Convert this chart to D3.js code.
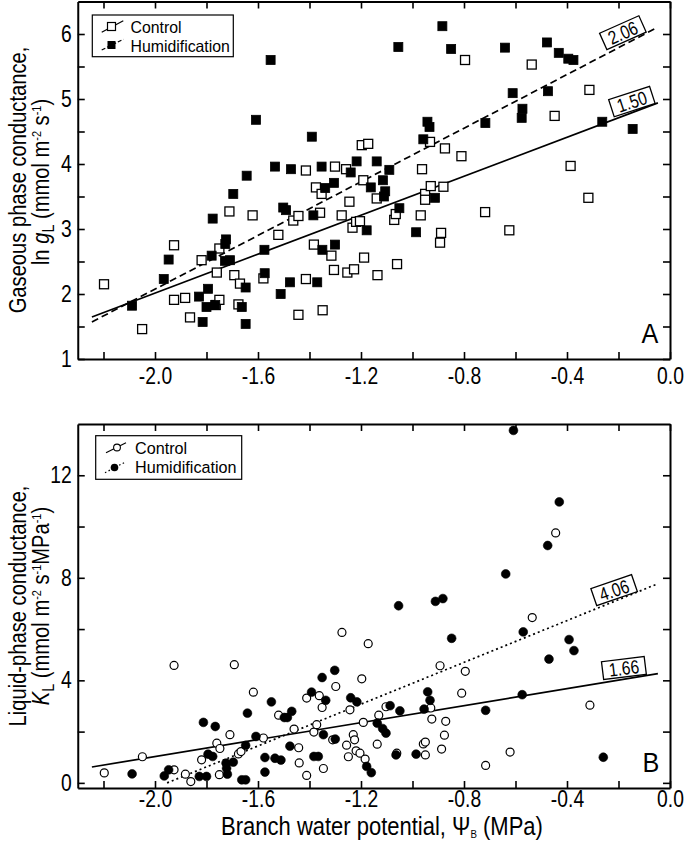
<!DOCTYPE html>
<html><head><meta charset="utf-8">
<script src="https://cdn.jsdelivr.net/npm/d3@7"></script>
<style>
body{margin:0;background:#fff}
svg{display:block}
text{font-family:"Liberation Sans",Arial,Helvetica,sans-serif;fill:#000}
</style>
</head><body>
<svg id="chart" width="685" height="847"></svg>
<script>
// ---------- tick data ----------
const xTicks = [-2.2,-2.0,-1.8,-1.6,-1.4,-1.2,-1.0,-0.8,-0.6,-0.4,-0.2,0.0];
const xTickLabels = [-2.0,-1.6,-1.2,-0.8,-0.4,0.0];
const yTicksA = [1,1.5,2,2.5,3,3.5,4,4.5,5,5.5,6];
const yTickLabelsA = [1,2,3,4,5,6];
const yTicksB = [0,2,4,6,8,10,12];
const yTickLabelsB = [0,4,8,12];

// ---------- Panel A: ln gL ----------
const gControl = [
[-2.198,2.15],[-2.050,1.46],[-1.926,2.75],[-1.926,1.91],[-1.883,1.94],[-1.864,1.64],[-1.819,2.52],
[-1.764,1.83],[-1.760,2.33],[-1.750,1.91],[-1.750,2.70],[-1.711,3.27],[-1.692,2.29],[-1.670,2.16],
[-1.676,1.84],[-1.621,3.21],[-1.579,2.24],[-1.521,2.91],[-1.463,3.13],[-1.443,3.20],[-1.443,1.68],
[-1.414,2.23],[-1.414,3.90],[-1.383,2.76],[-1.375,3.64],[-1.359,3.25],[-1.353,3.54],[-1.349,1.75],
[-1.315,2.59],[-1.305,2.37],[-1.301,3.96],[-1.275,3.21],[-1.258,3.92],[-1.253,2.33],[-1.245,3.42],
[-1.233,3.02],[-1.227,2.38],[-1.219,3.11],[-1.204,3.12],[-1.197,4.29],[-1.172,4.31],[-1.191,3.75],
[-1.188,2.56],[-1.139,3.47],[-1.136,2.29],[-1.071,3.14],[-1.065,3.23],[-1.060,2.46],[-0.968,3.21],
[-0.963,3.92],[-0.951,3.54],[-0.951,3.45],[-0.932,4.34],[-0.929,3.66],[-0.893,2.79],[-0.889,2.94],
[-0.880,3.65],[-0.874,4.24],[-0.810,4.12],[-0.796,5.60],[-0.718,3.26],[-0.624,2.98],[-0.537,5.53],
[-0.448,4.74],[-0.386,3.97],[-0.317,3.48],[-0.313,5.14]
];
const gHumid = [
[-2.089,1.82],[-1.966,2.23],[-1.947,2.53],[-1.829,1.96],[-1.815,1.57],[-1.800,1.80],[-1.794,2.08],
[-1.780,2.59],[-1.776,3.16],[-1.766,1.83],[-1.727,2.77],[-1.724,2.84],[-1.728,2.51],[-1.709,2.52],
[-1.696,3.54],[-1.663,1.80],[-1.648,2.10],[-1.648,1.54],[-1.644,3.82],[-1.608,4.68],[-1.575,2.68],
[-1.574,2.32],[-1.551,5.60],[-1.534,3.96],[-1.512,2.00],[-1.502,3.33],[-1.491,3.29],[-1.476,2.18],
[-1.472,3.92],[-1.391,4.42],[-1.385,3.21],[-1.370,2.18],[-1.353,3.96],[-1.350,2.68],[-1.339,3.63],
[-1.305,3.71],[-1.301,2.76],[-1.240,3.87],[-1.217,4.04],[-1.178,2.98],[-1.162,3.64],[-1.139,4.04],
[-1.115,3.75],[-1.106,3.58],[-1.111,3.50],[-1.090,3.91],[-1.055,5.80],[-1.051,3.32],[-0.986,2.95],
[-0.958,4.38],[-0.942,4.65],[-0.934,4.57],[-0.913,3.48],[-0.884,6.12],[-0.850,5.77],[-0.717,4.63],
[-0.641,5.79],[-0.611,5.09],[-0.576,4.71],[-0.573,4.85],[-0.478,5.87],[-0.474,5.12],[-0.432,5.71],
[-0.395,5.62],[-0.375,5.60],[-0.263,4.65],[-0.145,4.54]
];
const gFitControl = [[-2.245,1.646],[-0.047,4.94]];
const gFitHumid = [[-2.245,1.57],[-0.054,6.09]];

// ---------- Panel B: KL ----------
const kControl = [
[-2.197,0.39],[-2.049,1.02],[-1.926,0.51],[-1.926,4.58],[-1.882,0.34],[-1.861,0.05],[-1.819,0.90],
[-1.760,1.55],[-1.748,1.34],[-1.750,0.32],[-1.709,1.88],[-1.692,4.61],[-1.676,1.13],[-1.666,1.22],
[-1.618,3.54],[-1.579,1.75],[-1.520,2.64],[-1.460,2.10],[-1.442,1.37],[-1.440,0.78],[-1.411,0.29],
[-1.411,3.31],[-1.383,1.98],[-1.372,2.27],[-1.362,3.40],[-1.351,2.94],[-1.346,0.56],[-1.298,3.76],
[-1.310,1.68],[-1.274,5.87],[-1.256,1.47],[-1.249,1.02],[-1.243,2.85],[-1.230,1.88],[-1.225,1.68],
[-1.219,1.25],[-1.204,1.16],[-1.197,4.06],[-1.191,2.36],[-1.184,0.93],[-1.172,5.43],[-1.137,1.51],
[-1.131,2.64],[-1.103,2.97],[-1.061,1.16],[-0.958,1.52],[-0.950,1.59],[-0.950,1.09],[-0.929,2.92],
[-0.925,2.49],[-0.893,4.57],[-0.887,1.32],[-0.876,1.86],[-0.871,2.40],[-0.809,3.50],[-0.795,4.35],
[-0.716,0.68],[-0.621,1.20],[-0.535,6.45],[-0.444,9.75],[-0.311,3.03]
];
const kHumid = [
[-2.089,0.35],[-1.964,0.27],[-1.947,0.51],[-1.812,2.36],[-1.828,0.25],[-1.800,0.25],[-1.794,1.12],
[-1.776,1.03],[-1.766,2.20],[-1.724,0.77],[-1.722,0.57],[-1.719,0.34],[-1.696,0.81],[-1.663,0.12],
[-1.648,0.12],[-1.648,1.46],[-1.641,2.72],[-1.608,1.81],[-1.573,0.99],[-1.573,0.42],[-1.548,3.16],
[-1.534,0.96],[-1.511,0.89],[-1.498,2.55],[-1.486,2.55],[-1.469,2.79],[-1.476,1.43],[-1.392,3.54],
[-1.383,1.03],[-1.366,1.03],[-1.351,4.11],[-1.337,3.22],[-1.346,1.88],[-1.302,4.39],[-1.300,1.71],
[-1.240,3.32],[-1.216,3.16],[-1.178,0.64],[-1.160,0.40],[-1.137,2.33],[-1.116,2.12],[-1.103,1.94],
[-1.087,3.01],[-1.064,1.09],[-1.054,6.91],[-1.049,2.81],[-0.986,1.12],[-0.955,2.88],[-0.941,3.55],
[-0.932,3.22],[-0.911,7.08],[-0.882,7.19],[-0.848,5.64],[-0.716,2.83],[-0.638,8.15],[-0.608,13.75],
[-0.574,3.44],[-0.570,5.89],[-0.475,9.26],[-0.470,4.83],[-0.430,10.96],[-0.392,5.59],[-0.373,5.16],
[-0.259,1.00]
];
const kFitControl = [[-2.245,0.62],[-0.047,4.26]];
const kFitHumid = [[-1.953,0.0],[-0.047,7.77]];

// slope annotations (data coords of box centre)
const annotA = [{t:"2.06",x:-0.183,y:6.02,a:-24},{t:"1.50",x:-0.148,y:4.96,a:-18}];
const annotB = [{t:"4.06",x:-0.217,y:7.52,a:-19},{t:"1.66",x:-0.179,y:4.48,a:-7}];

// ---------- drawing ----------
const svg = d3.select("#chart");
const K = 0.84; // condensed look
const x = d3.scaleLinear().domain([-2.3,0]).range([77.75,670]);
const yA = d3.scaleLinear().domain([1,6.5]).range([359,1.5]);
const yB = d3.scaleLinear().domain([-0.2,14]).range([788,424]);

const near = (arr,d)=>arr.some(v=>Math.abs(v-d)<1e-9);

function axes(g, y, yT, yL, padX){
  const [b,t] = y.range();
  const style = sel=>{
    sel.select(".domain").attr("stroke","#000").attr("stroke-width",2);
    sel.selectAll(".tick line").attr("stroke","#000").attr("stroke-width",1.6);
    sel.attr("font-family",null).attr("font-size",null);
  };
  const gb = g.append("g").attr("transform",`translate(0,${b})`)
    .call(d3.axisBottom(x).tickValues(xTicks).tickFormat(d=>near(xTickLabels,d)?d.toFixed(1):"")
      .tickSizeInner(-7).tickSizeOuter(0).tickPadding(padX)).call(style);
  gb.selectAll("text").attr("font-size",23).attr("transform",`scale(${K},1)`);
  g.append("g").attr("transform",`translate(0,${t})`)
    .call(d3.axisTop(x).tickValues(xTicks).tickFormat("").tickSizeInner(-7).tickSizeOuter(0)).call(style);
  const gl = g.append("g").attr("transform",`translate(${x.range()[0]},0)`)
    .call(d3.axisLeft(y).tickValues(yT).tickFormat(d=>near(yL,d)?String(d):"")
      .tickSizeInner(-7).tickSizeOuter(0).tickPadding(6)).call(style);
  gl.selectAll("text").attr("font-size",23).attr("x",-6/K).attr("transform",`scale(${K},1)`);
  g.append("g").attr("transform",`translate(${x.range()[1]},0)`)
    .call(d3.axisRight(y).tickValues(yT).tickFormat("").tickSizeInner(-7).tickSizeOuter(0)).call(style);
}

function fit(g, y, pts, dash){
  g.append("path").datum(pts).attr("fill","none").attr("stroke","#000").attr("stroke-width",1.7)
    .attr("stroke-dasharray",dash).attr("d",d3.line().x(d=>x(d[0])).y(d=>y(d[1])));
}

function annot(g, y, list){
  list.forEach(a=>{
    const gg = g.append("g").attr("transform",`translate(${x(a.x)},${y(a.y)}) rotate(${a.a})`);
    gg.append("rect").attr("x",-21.5).attr("y",-9).attr("width",43).attr("height",18)
      .attr("fill","#fff").attr("stroke","#000").attr("stroke-width",1.3);
    gg.append("text").attr("text-anchor","middle").attr("dy","0.36em").attr("font-size",19)
      .attr("transform",`scale(0.82,1)`).text(a.t);
  });
}

function squares(g, y, data, filled){
  g.selectAll(null).data(data).join("rect")
    .attr("x",d=>x(d[0])-4.5).attr("y",d=>y(d[1])-4.5).attr("width",9).attr("height",9)
    .attr("fill",filled?"#000":"#fff").attr("stroke","#000").attr("stroke-width",filled?0.8:1.3);
}
function circles(g, y, data, filled){
  g.selectAll(null).data(data).join("circle")
    .attr("cx",d=>x(d[0])).attr("cy",d=>y(d[1])).attr("r",filled?4.4:4.0)
    .attr("fill",filled?"#000":"#fff").attr("stroke","#000").attr("stroke-width",filled?0.6:1.2);
}

function ntext(g, px, py, size, str, anchor, k){
  return g.append("text").attr("transform",`translate(${px},${py}) scale(${k||K},1)`)
    .attr("font-size",size).attr("text-anchor",anchor||"start").text(str);
}

// ---- Panel A ----
const gA = svg.append("g");
fit(gA, yA, gFitControl, null);
fit(gA, yA, gFitHumid, "7,4");
annot(gA, yA, annotA);
squares(gA, yA, gControl, false);
squares(gA, yA, gHumid, true);
axes(gA, yA, yTicksA, yTickLabelsA, 9);
ntext(gA, 650, 343, 28, "A", "middle", 0.9);

// legend A
gA.append("rect").attr("x",92.3).attr("y",15).attr("width",141).attr("height",41.7)
  .attr("fill","#fff").attr("stroke","#000").attr("stroke-width",1.2);
gA.append("line").attr("x1",101.7).attr("y1",32.3).attr("x2",123.3).attr("y2",20.7).attr("stroke","#000").attr("stroke-width",1.2);
gA.append("rect").attr("x",107.5).attr("y",22.5).attr("width",8).attr("height",8).attr("fill","#fff").attr("stroke","#000").attr("stroke-width",1.2);
gA.append("line").attr("x1",101.7).attr("y1",50).attr("x2",123.3).attr("y2",39.3).attr("stroke","#000").attr("stroke-width",1.2).attr("stroke-dasharray","4,2");
gA.append("rect").attr("x",107.5).attr("y",41).attr("width",8).attr("height",8).attr("fill","#000");
ntext(gA, 130.5, 32.5, 16.5, "Control", "start", 0.96);
ntext(gA, 130.5, 51.5, 16.5, "Humidification", "start", 0.96);

// ---- Panel B ----
const gB = svg.append("g");
fit(gB, yB, kFitControl, null);
fit(gB, yB, kFitHumid, "2,3");
annot(gB, yB, annotB);
circles(gB, yB, kControl, false);
circles(gB, yB, kHumid, true);
axes(gB, yB, yTicksB, yTickLabelsB, 3);
ntext(gB, 651, 772, 28, "B", "middle", 0.9);

gB.append("rect").attr("x",95.7).attr("y",435.7).attr("width",146).attr("height",43.6)
  .attr("fill","#fff").attr("stroke","#000").attr("stroke-width",1.2);
gB.append("line").attr("x1",106).attr("y1",452.7).attr("x2",126).attr("y2",442.7).attr("stroke","#000").attr("stroke-width",1.2);
gB.append("circle").attr("cx",117).attr("cy",447.5).attr("r",3.4).attr("fill","#fff").attr("stroke","#000").attr("stroke-width",1.1);
gB.append("line").attr("x1",105).attr("y1",472.7).attr("x2",126).attr("y2",461.7).attr("stroke","#000").attr("stroke-width",1.2).attr("stroke-dasharray","1.5,2.5");
gB.append("circle").attr("cx",114.5).attr("cy",467.5).attr("r",3.8).attr("fill","#000");
ntext(gB, 135, 454, 16.5, "Control", "start", 0.98);
ntext(gB, 135, 473, 16.5, "Humidification", "start", 0.98);

// ---- axis titles ----
function rtext(px, py, size){
  return svg.append("text").attr("transform",`translate(${px},${py}) rotate(-90) scale(${K},1)`)
    .attr("font-size",size).attr("text-anchor","middle");
}
rtext(26, 180, 24).text("Gaseous phase conductance,");
{
  const t = rtext(49, 182, 24);
  t.append("tspan").text("ln ");
  t.append("tspan").attr("font-style","italic").text("g");
  t.append("tspan").attr("font-size",17).attr("dy",5).text("L");
  t.append("tspan").attr("dy",-5).text("  (mmol m");
  t.append("tspan").attr("font-size",13).attr("dy",-8).text("-2");
  t.append("tspan").attr("dy",8).text(" s");
  t.append("tspan").attr("font-size",13).attr("dy",-8).text("-1");
  t.append("tspan").attr("dy",8).text(")");
}
rtext(26, 606, 24).text("Liquid-phase conductance,");
{
  const t = rtext(49, 606, 24);
  t.append("tspan").attr("font-style","italic").text("K");
  t.append("tspan").attr("font-size",17).attr("dy",5).text("L");
  t.append("tspan").attr("dy",-5).text(" (mmol m");
  t.append("tspan").attr("font-size",13).attr("dy",-8).text("-2");
  t.append("tspan").attr("dy",8).text(" s");
  t.append("tspan").attr("font-size",13).attr("dy",-8).text("-1");
  t.append("tspan").attr("dy",8).text("MPa");
  t.append("tspan").attr("font-size",13).attr("dy",-8).text("-1");
  t.append("tspan").attr("dy",8).text(")");
}
{
  const t = svg.append("text").attr("transform",`translate(382,835) scale(0.88,1)`)
    .attr("font-size",25).attr("text-anchor","middle");
  t.append("tspan").text("Branch water potential, \u03A8");
  t.append("tspan").attr("font-size",11).attr("dy",3).text("B");
  t.append("tspan").attr("dy",-3).text(" (MPa)");
}
</script>
</body></html>
